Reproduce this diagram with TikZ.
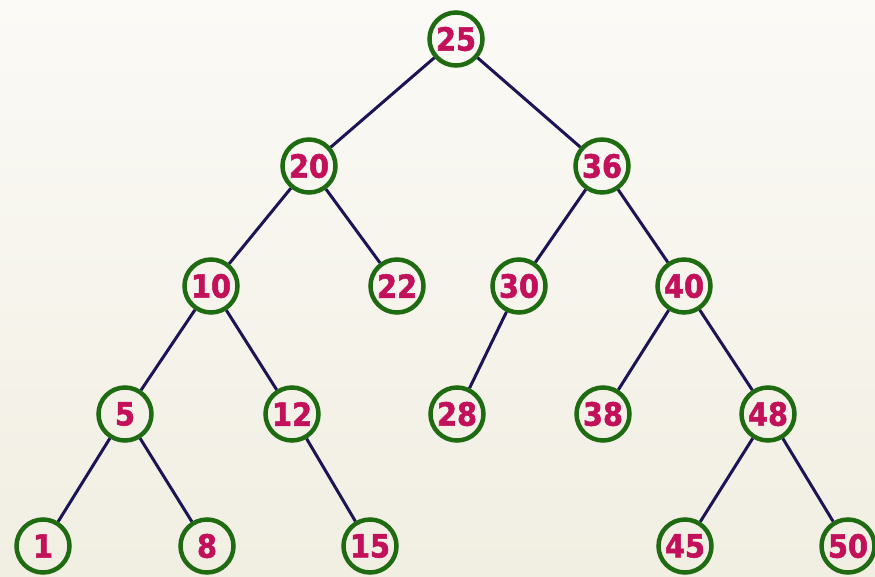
\documentclass[tikz,border=0pt]{standalone}
\usepackage{fontspec}
\setmainfont{DejaVu Sans}
\newfontfamily\keyfont[FakeBold=1.6]{DejaVu Sans Condensed Bold}
\usepackage{tikz}

\definecolor{keyred}{HTML}{C2105A}
\definecolor{ringgreen}{HTML}{1F6B12}
\definecolor{edgenavy}{HTML}{1C1455}
\definecolor{bgtop}{HTML}{FBFAF6}
\definecolor{bgbot}{HTML}{F1EEE2}

\tikzset{
    key/.style={shape=circle, draw=ringgreen, line width=4.5pt, minimum size=53pt,
        inner sep=0pt, text=keyred, font=\keyfont\fontsize{32}{32}\selectfont},
    link/.style={draw=edgenavy, line width=3pt}
}

\begin{document}
\begin{tikzpicture}[x=1pt, y=-1pt]
            \useasboundingbox (0,0) rectangle (875,576);
            \shade[top color=bgtop, bottom color=bgbot] (0,0) rectangle (875,576);
            \node[key] (K25) at (456, 39) {25};
            \node[key] (K20) at (309,166) {20};
            \node[key] (K36) at (602,166) {36};
            \node[key] (K10) at (211,286) {10};
            \node[key] (K22) at (397,286) {22};
            \node[key] (K30) at (519,286) {30};
            \node[key] (K40) at (684,286) {40};
            \node[key] (K5)  at (125,414) {5};
            \node[key] (K12) at (292,414) {12};
            \node[key] (K28) at (457,414) {28};
            \node[key] (K38) at (603,414) {38};
            \node[key] (K48) at (768,414) {48};
            \node[key] (K1)  at ( 43,546) {1};
            \node[key] (K8)  at (207,546) {8};
            \node[key] (K15) at (370,546) {15};
            \node[key] (K45) at (685,546) {45};
            \node[key] (K50) at (848,546) {50};
            \path[link] (K25) -- (K20);
            \path[link] (K25) -- (K36);
            \path[link] (K20) -- (K10);
            \path[link] (K20) -- (K22);
            \path[link] (K36) -- (K30);
            \path[link] (K36) -- (K40);
            \path[link] (K10) -- (K5);
            \path[link] (K10) -- (K12);
            \path[link] (K30) -- (K28);
            \path[link] (K40) -- (K38);
            \path[link] (K40) -- (K48);
            \path[link] (K5) -- (K1);
            \path[link] (K5) -- (K8);
            \path[link] (K12) -- (K15);
            \path[link] (K48) -- (K45);
            \path[link] (K48) -- (K50);
        \end{tikzpicture}
\end{document}
